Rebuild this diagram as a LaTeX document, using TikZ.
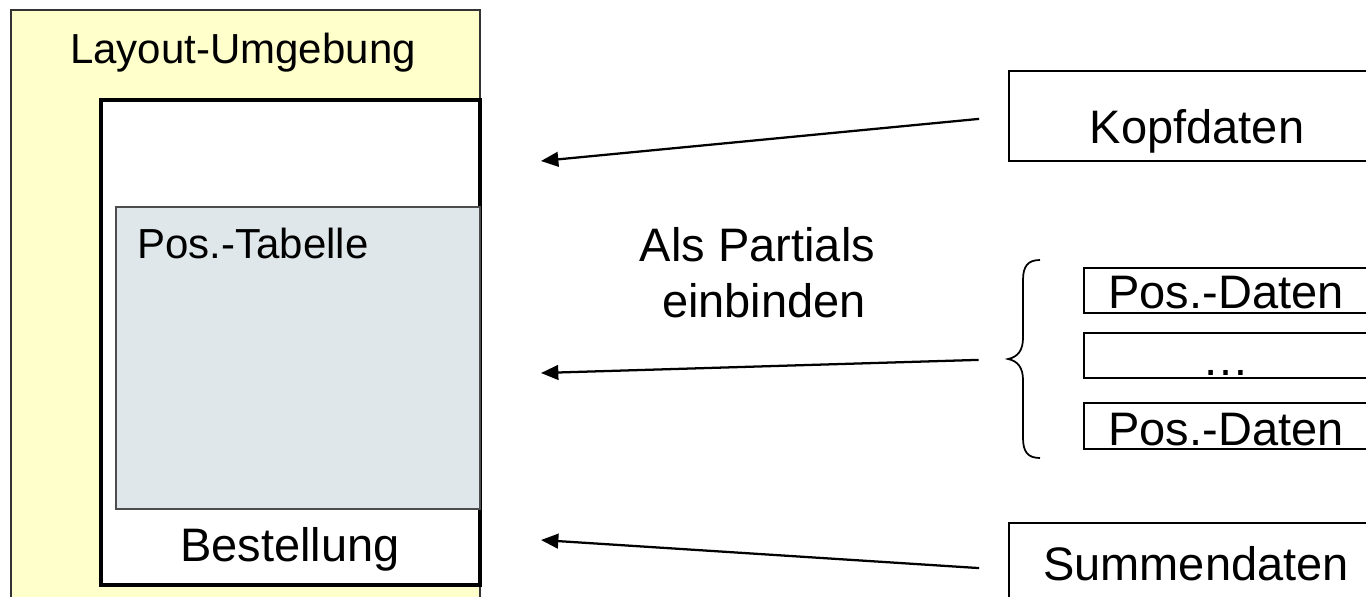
\documentclass[tikz,border=0pt]{standalone}
\usepackage{fontspec}
\setmainfont{Liberation Sans}
\usetikzlibrary{arrows.meta,fit}
\definecolor{layoutyellow}{RGB}{255,255,204}
\definecolor{tablegray}{RGB}{223,231,234}
\begin{document}
\begin{tikzpicture}[x=0.75pt,y=-0.75pt,
  panel/.style={inner sep=0pt, outer sep=0pt},
  big/.style={inner sep=0pt, font=\fontsize{35.25}{42}\selectfont},
  mid/.style={inner sep=0pt, font=\fontsize{31.5}{38}\selectfont},
  arr/.style={line width=1.7pt, -{Triangle[length=13pt,width=11pt]}},
]
\useasboundingbox (0,0) rectangle (1366,596);
\clip (0,0) rectangle (1366,596);

% left: layout frame with the order page and its item table
\node[panel, fit={(11,10) (480,640)}, draw=black!80, line width=1.3pt, fill=layoutyellow] (layout) {};
\node[panel, fit={(101,100) (480,585)}, draw, line width=2.8pt, fill=white] (order) {};
\node[panel, fit={(116,207) (480,509)}, draw=black!70, line width=0.9pt, fill=tablegray] (table) {};
\node[mid, anchor=base] (layoutlbl) at (243,63) {Layout-Umgebung};
\node[mid, anchor=base west] (tablelbl) at (137,258) {Pos.-Tabelle};
\node[big, anchor=base] (orderlbl) at (290,561) {Bestellung};

% right: the partials
\node[panel, fit={(1009,71) (1400,161)}, draw, line width=1.7pt] (head) {};
\node[big, anchor=base] (headlbl) at (1197,143) {Kopfdaten};

\node[panel, fit={(1084,268) (1400,313)}, draw, line width=1.3pt] (pos1) {};
\node[panel, fit={(1084,333) (1400,378)}, draw, line width=1.3pt] (pos2) {};
\node[panel, fit={(1084,403) (1400,449)}, draw, line width=1.3pt] (pos3) {};
\node[big, anchor=base] (pos1lbl) at (1226,308) {Pos.-Daten};
\node[big, anchor=base] (pos2lbl) at (1226,375) {…};
\node[big, anchor=base] (pos3lbl) at (1226,445) {Pos.-Daten};

\node[panel, fit={(1009,523) (1400,617)}, draw, line width=1.7pt] (sum) {};
\node[big, anchor=base] (sumlbl) at (1196,580) {Summendaten};

% brace grouping the item partials
\coordinate (cusp) at (1008,359);
\draw[line width=1.3pt] (1040,260) .. controls (1028,260) and (1023,266) .. (1023,280)
  -- (1023,338) .. controls (1023,350) and (1018,357) .. (cusp)
  .. controls (1018,361) and (1023,368) .. (1023,380)
  -- (1023,438) .. controls (1023,452) and (1028,458) .. (1040,458);

% arrows into the layout
\coordinate (t1) at (541,161);
\coordinate (t2) at (541,373);
\coordinate (t3) at (541,540);
\draw[arr, shorten <=22.5pt] (head.west) -- (t1);
\draw[arr, shorten <=22pt] (cusp) -- (t2);
\draw[arr, shorten <=22.5pt] (sum.west) -- (t3);

\node[big, align=center] (partials) at (757.5,273) {Als Partials\\\hspace*{0.28em}einbinden};
\end{tikzpicture}
\end{document}
